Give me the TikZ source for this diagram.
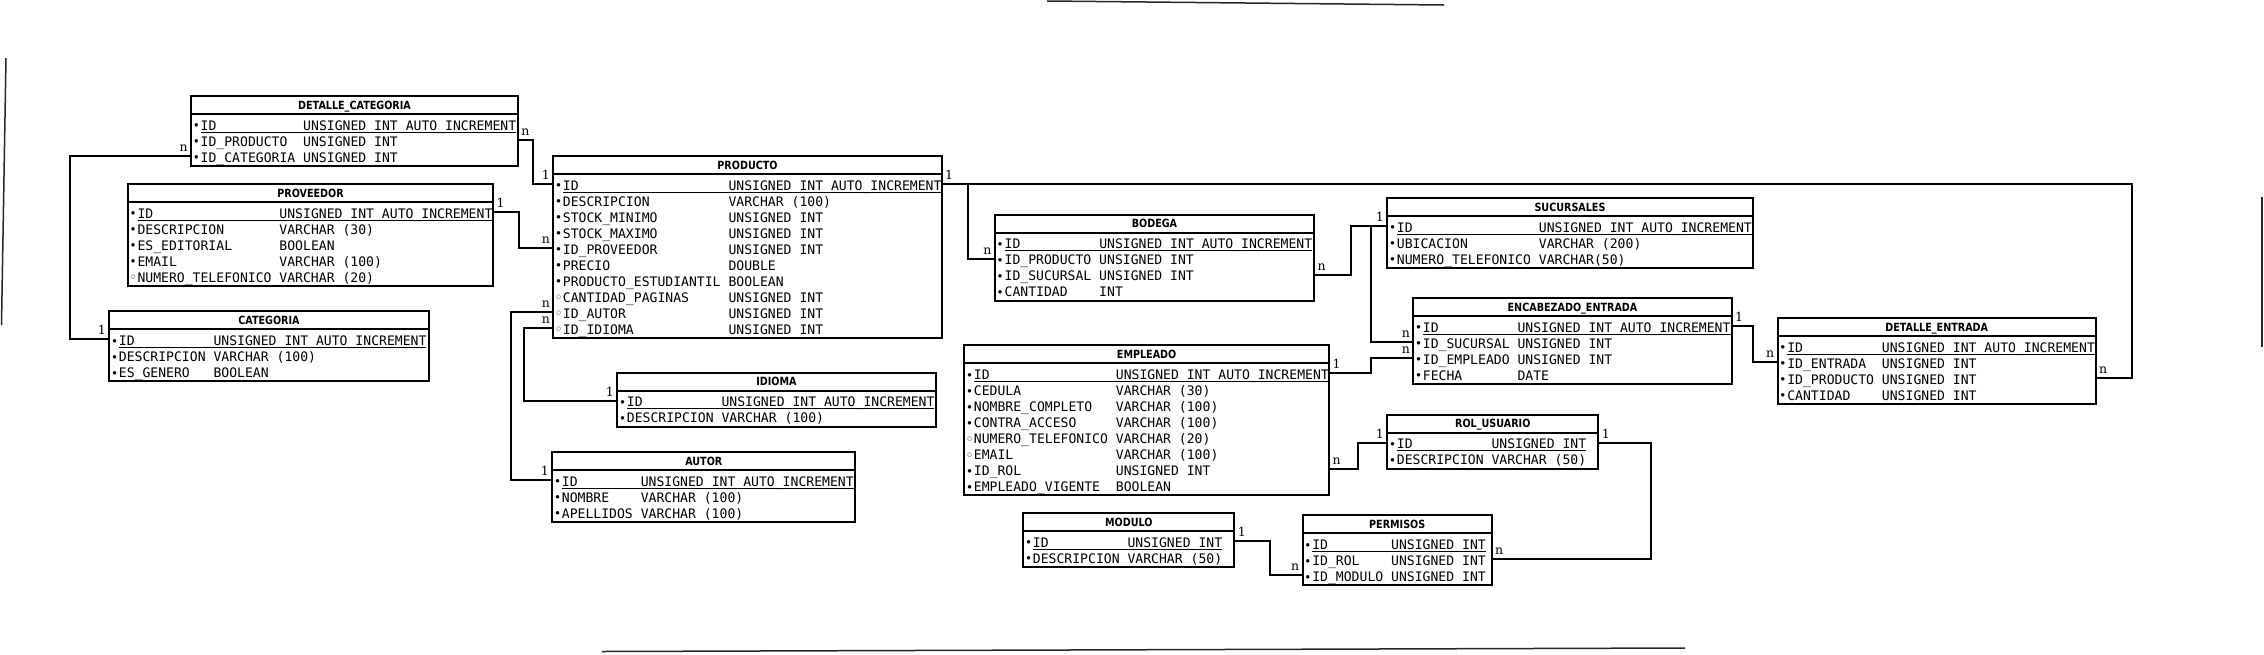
\documentclass[tikz,border=0pt]{standalone}
\usepackage{fontspec}
\setmainfont{DejaVu Serif}
\newfontfamily\bodyfont{DejaVu Sans Mono}
\newfontfamily\titlefont{DejaVu Sans}[FakeStretch=0.85]
\newfontfamily\symfont{DejaVu Sans}
\usetikzlibrary{positioning}

\newlength\colw
\newcommand\cols[1]{\settowidth\colw{0}\spaceskip=\colw\colw=#1\colw}
\newcommand\rowstrut{\rule[-1.9pt]{0pt}{16pt}}
\newcommand\mandot{\makebox[7.6pt][l]{\hspace{1.2pt}\raisebox{3.4pt}{\symfont\fontsize{4.6}{5}\selectfont ●}}}
\newcommand\optdot{\makebox[7.6pt][l]{\hspace{1pt}\raisebox{3.2pt}{\symfont\bfseries\fontsize{5.2}{6}\selectfont ○}}}
\newcommand\keyline[1]{\setbox0=\hbox{#1}\rlap{\rule[-2.4pt]{\wd0}{0.9pt}}\box0}
\newcommand\pkey[2]{\smash{\mandot\keyline{\makebox[\colw][l]{#1}#2}}\rowstrut}
\newcommand\fld[2]{\smash{\mandot\makebox[\colw][l]{#1}#2}\rowstrut}
\newcommand\ofld[2]{\smash{\optdot\makebox[\colw][l]{#1}#2}\rowstrut}

\begin{document}
\begin{tikzpicture}[%
    x=1pt, y=-1pt,
    tbody/.style={draw, line width=2pt, anchor=north west, inner xsep=2pt,
      inner ysep=2pt, outer sep=0pt, align=left,
      font=\bodyfont\fontsize{13.1}{16}\selectfont},
    thead/.style={draw, line width=2pt, inner sep=0pt, outer sep=0pt,
      minimum height=18pt, text height=13.1pt, text depth=4.9pt,
      font=\titlefont\bfseries\fontsize{11.3}{12}\selectfont},
    card/.style={font=\fontsize{12.5}{12.5}\selectfont, inner xsep=3.5pt,
      inner ysep=4.5pt, outer sep=0pt},
    on row/.style={yshift={-(10+16*#1)*1pt}},
    stray/.style={line width=1.5pt, black!85}
  ]
  \useasboundingbox (0,0) rectangle (2264,654);

  \node[tbody, text width=322.8pt] (DC) at (191.1,114) {\cols{13}\pkey{ID}{UNSIGNED INT AUTO\_INCREMENT}\\
    \fld{ID\_PRODUCTO}{UNSIGNED INT}\\
    \fld{ID\_CATEGORIA}{UNSIGNED INT}};
  \node[thead, minimum width=326.8pt, above=0pt of DC] (DCh) {DETALLE\_CATEGORIA};

  \node[tbody, text width=361.3pt] (PV) at (127.9,202) {\cols{18}\pkey{ID}{UNSIGNED INT AUTO\_INCREMENT}\\
    \fld{DESCRIPCION}{VARCHAR (30)}\\
    \fld{ES\_EDITORIAL}{BOOLEAN}\\
    \fld{EMAIL}{VARCHAR (100)}\\
    \ofld{NUMERO\_TELEFONICO}{VARCHAR (20)}};
  \node[thead, minimum width=365.3pt, above=0pt of PV] (PVh) {PROVEEDOR};

  \node[tbody, text width=315.3pt] (CA) at (109.3,329.3) {\cols{12}\pkey{ID}{UNSIGNED INT AUTO\_INCREMENT}\\
    \fld{DESCRIPCION}{VARCHAR (100)}\\
    \fld{ES\_GENERO}{BOOLEAN}};
  \node[thead, minimum width=319.3pt, above=0pt of CA] (CAh) {CATEGORIA};

  \node[tbody, text width=384.4pt] (PR) at (553.3,174) {\cols{21}\pkey{ID}{UNSIGNED INT AUTO\_INCREMENT}\\
    \fld{DESCRIPCION}{VARCHAR (100)}\\
    \fld{STOCK\_MINIMO}{UNSIGNED INT}\\
    \fld{STOCK\_MAXIMO}{UNSIGNED INT}\\
    \fld{ID\_PROVEEDOR}{UNSIGNED INT}\\
    \fld{PRECIO}{DOUBLE}\\
    \fld{PRODUCTO\_ESTUDIANTIL}{BOOLEAN}\\
    \ofld{CANTIDAD\_PAGINAS}{UNSIGNED INT}\\
    \ofld{ID\_AUTOR}{UNSIGNED INT}\\
    \ofld{ID\_IDIOMA}{UNSIGNED INT}};
  \node[thead, minimum width=388.4pt, above=0pt of PR] (PRh) {PRODUCTO};

  \node[tbody, text width=314.4pt] (IDI) at (617.3,390.7) {\cols{12}\pkey{ID}{UNSIGNED INT AUTO\_INCREMENT}\\
    \fld{DESCRIPCION}{VARCHAR (100)}};
  \node[thead, minimum width=318.4pt, above=0pt of IDI] (IDIh) {IDIOMA};

  \node[tbody, text width=299pt] (AU) at (552.3,470) {\cols{10}\pkey{ID}{UNSIGNED INT AUTO\_INCREMENT}\\
    \fld{NOMBRE}{VARCHAR (100)}\\
    \fld{APELLIDOS}{VARCHAR (100)}};
  \node[thead, minimum width=303pt, above=0pt of AU] (AUh) {AUTOR};

  \node[tbody, text width=315pt] (BO) at (995,232.7) {\cols{12}\pkey{ID}{UNSIGNED INT AUTO\_INCREMENT}\\
    \fld{ID\_PRODUCTO}{UNSIGNED INT}\\
    \fld{ID\_SUCURSAL}{UNSIGNED INT}\\
    \fld{CANTIDAD}{INT}};
  \node[thead, minimum width=319pt, above=0pt of BO] (BOh) {BODEGA};

  \node[tbody, text width=361.4pt] (SU) at (1387.3,216) {\cols{18}\pkey{ID}{UNSIGNED INT AUTO\_INCREMENT}\\
    \fld{UBICACION}{VARCHAR (200)}\\
    \fld{NUMERO\_TELEFONICO}{VARCHAR(50)}};
  \node[thead, minimum width=365.4pt, above=0pt of SU] (SUh) {SUCURSALES};

  \node[tbody, text width=314.4pt] (EN) at (1413.3,316) {\cols{12}\pkey{ID}{UNSIGNED INT AUTO\_INCREMENT}\\
    \fld{ID\_SUCURSAL}{UNSIGNED INT}\\
    \fld{ID\_EMPLEADO}{UNSIGNED INT}\\
    \fld{FECHA}{DATE}};
  \node[thead, minimum width=318.4pt, above=0pt of EN] (ENh) {ENCABEZADO\_ENTRADA};

  \node[tbody, text width=314pt] (DE) at (1777.7,336) {\cols{12}\pkey{ID}{UNSIGNED INT AUTO\_INCREMENT}\\
    \fld{ID\_ENTRADA}{UNSIGNED INT}\\
    \fld{ID\_PRODUCTO}{UNSIGNED INT}\\
    \fld{CANTIDAD}{UNSIGNED INT}};
  \node[thead, minimum width=318pt, above=0pt of DE] (DEh) {DETALLE\_ENTRADA};

  \node[tbody, text width=360.7pt] (EM) at (964.3,363.3) {\cols{18}\pkey{ID}{UNSIGNED INT AUTO\_INCREMENT}\\
    \fld{CEDULA}{VARCHAR (30)}\\
    \fld{NOMBRE\_COMPLETO}{VARCHAR (100)}\\
    \fld{CONTRA\_ACCESO}{VARCHAR (100)}\\
    \ofld{NUMERO\_TELEFONICO}{VARCHAR (20)}\\
    \ofld{EMAIL}{VARCHAR (100)}\\
    \fld{ID\_ROL}{UNSIGNED INT}\\
    \fld{EMPLEADO\_VIGENTE}{BOOLEAN}};
  \node[thead, minimum width=364.7pt, above=0pt of EM] (EMh) {EMPLEADO};

  \node[tbody, text width=207pt] (RO) at (1387.3,432.7) {\cols{12}\pkey{ID}{UNSIGNED INT}\\
    \fld{DESCRIPCION}{VARCHAR (50)}};
  \node[thead, minimum width=211pt, above=0pt of RO] (ROh) {ROL\_USUARIO};

  \node[tbody, text width=207pt] (MO) at (1023.3,531) {\cols{12}\pkey{ID}{UNSIGNED INT}\\
    \fld{DESCRIPCION}{VARCHAR (50)}};
  \node[thead, minimum width=211pt, above=0pt of MO] (MOh) {MODULO};

  \node[tbody, text width=185pt] (PE) at (1302.7,533.3) {\cols{10}\pkey{ID}{UNSIGNED INT}\\
    \fld{ID\_ROL}{UNSIGNED INT}\\
    \fld{ID\_MODULO}{UNSIGNED INT}};
  \node[thead, minimum width=189pt, above=0pt of PE] (PEh) {PERMISOS};

  \path[draw, line width=2pt]
    ([on row=2]DC.north west) node[card, above left]{n} -- ++(-120.7,0) |- ([on row=0]CA.north west) node[card, above left]{1}
    ([on row=1]DC.north east) node[card, above right]{n} -- ++(15.3,0) |- ([on row=0]PR.north west) node[card, above left]{1}
    ([on row=0]PV.north east) node[card, above right]{1} -- ++(25.7,0) |- ([on row=4]PR.north west) node[card, above left]{n}
    ([on row=8]PR.north west) node[card, above left]{n} -- ++(-41.9,0) |- ([on row=0]AU.north west) node[card, above left]{1}
    ([on row=9]PR.north west) node[card, above left]{n} -- ++(-29.4,0) |- ([on row=0]IDI.north west) node[card, above left]{1}
    ([on row=0]PR.north east) node[card, above right]{1} -- ++(1190.6,0) |- ([on row=2]DE.north east) node[card, above right]{n}
    ([on row=1]BO.north west) node[card, above left]{n} -- ++(-26.7,0) |- ([on row=0]PR.north east)
    ([on row=2]BO.north east) node[card, above right]{n} -- ++(37,0) |- ([on row=0]SU.north west) node[card, above left]{1}
    ([on row=1]EN.north west) node[card, above left]{n} -- ++(-42,0) |- ([on row=0]SU.north west)
    ([on row=0]EM.north east) node[card, above right]{1} -- ++(42,0) |- ([on row=2]EN.north west) node[card, above left]{n}
    ([on row=0]EN.north east) node[card, above right]{1} -- ++(21.6,0) |- ([on row=1]DE.north west) node[card, above left]{n}
    ([on row=6]EM.north east) node[card, above right]{n} -- ++(29.3,0) |- ([on row=0]RO.north west) node[card, above left]{1}
    ([on row=0]RO.north east) node[card, above right]{1} -- ++(52.7,0) |- ([on row=1]PE.north east) node[card, above right]{n}
    ([on row=0]MO.north east) node[card, above right]{1} -- ++(35.7,0) |- ([on row=2]PE.north west) node[card, above left]{n};

  % page edges left over in the scan
  \draw[stray] (1047,1) -- (1444,5);
  \draw[stray] (602,651.5) -- (1685,648);
  \draw[stray] (6,58) -- (1.5,325);
  \draw[stray] (2262,197) -- (2262,347);
\end{tikzpicture}
\end{document}
